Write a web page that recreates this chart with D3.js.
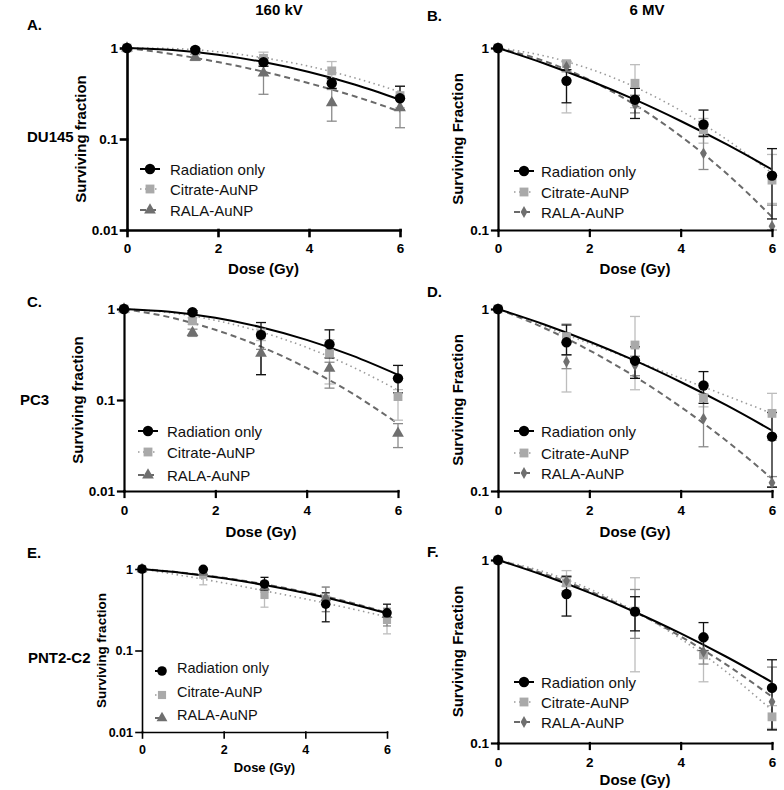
<!DOCTYPE html>
<html><head><meta charset="utf-8">
<script src="https://cdn.jsdelivr.net/npm/d3@7"></script>
<style>body{margin:0;background:#fff} svg{display:block}</style>
</head><body>
<svg id="c" width="784" height="790"></svg>
<script>
// ---------- data ----------
const doses = [0, 1.5, 3, 4.5, 6];
const fitDoses = [0, 1, 2, 3, 4, 5, 6];
const xTicks = [0, 2, 4, 6];
const seriesNames = ["Radiation only", "Citrate-AuNP", "RALA-AuNP"];
const columnTitles = ["160 kV", "6 MV"];
const rowLabels = ["DU145", "PC3", "PNT2-C2"];
const panelLetters = ["A.", "B.", "C.", "D.", "E.", "F."];
const yTicksKV = [1, 0.1, 0.01];
const yTicksMV = [1, 0.1];
const yLabelsKV = "Surviving fraction";
const yLabelsMV = "Surviving Fraction";
const xLabel = "Dose (Gy)";

// A: DU145, 160 kV
const A_rad = [1, 0.95, 0.70, 0.41, 0.28];
const A_radErr = [null, [0.91, 0.99], [0.63, 0.78], [0.36, 0.46], [0.21, 0.38]];
const A_cit = [1, 0.93, 0.77, 0.56, 0.30];
const A_citErr = [null, [0.88, 0.98], [0.65, 0.90], [0.44, 0.71], [0.22, 0.38]];
const A_rala = [1, 0.79, 0.53, 0.25, 0.22];
const A_ralaErr = [null, [0.73, 0.85], [0.31, 0.76], [0.157, 0.35], [0.133, 0.30]];
const A_radFit = [1, 0.948, 0.842, 0.70, 0.544, 0.397, 0.27];
const A_citFit = [1, 0.986, 0.908, 0.78, 0.63, 0.47, 0.33];
const A_ralaFit = [1, 0.856, 0.70, 0.549, 0.41, 0.295, 0.20];

// B: DU145, 6 MV
const B_rad = [1, 0.66, 0.52, 0.38, 0.199];
const B_radErr = [null, [0.50, 0.76], [0.41, 0.60], [0.326, 0.456], [0.115, 0.28]];
const B_cit = [1, 0.82, 0.64, 0.355, 0.188];
const B_citErr = [null, [0.44, 0.85], [0.47, 0.81], [0.30, 0.41], [0.14, 0.26]];
const B_rala = [1, 0.79, 0.486, 0.264, 0.105];
const B_ralaErr = [null, [0.74, 0.84], [0.44, 0.55], [0.215, 0.33], [0.10, 0.137]];
const B_radFit = [1, 0.825, 0.663, 0.52, 0.397, 0.296, 0.215];
const B_citFit = [1, 0.907, 0.769, 0.61, 0.453, 0.315, 0.205];
const B_ralaFit = [1, 0.85, 0.668, 0.487, 0.328, 0.205, 0.118];

// C: PC3, 160 kV
const C_rad = [1, 0.92, 0.52, 0.41, 0.173];
const C_radErr = [null, [0.88, 0.96], [0.19, 0.71], [0.29, 0.59], [0.12, 0.24]];
const C_cit = [1, 0.74, 0.52, 0.326, 0.109];
const C_citErr = [null, [0.68, 0.80], [0.45, 0.60], [0.15, 0.46], [0.06, 0.13]];
const C_rala = [1, 0.55, 0.326, 0.223, 0.043];
const C_ralaErr = [null, [0.50, 0.60], [0.19, 0.36], [0.135, 0.26], [0.03, 0.055]];
const C_radFit = [1, 0.931, 0.80, 0.63, 0.458, 0.307, 0.189];
const C_citFit = [1, 0.911, 0.751, 0.56, 0.378, 0.231, 0.128];
const C_ralaFit = [1, 0.812, 0.591, 0.385, 0.225, 0.118, 0.055];

// D: PC3, 6 MV
const D_rad = [1, 0.656, 0.52, 0.38, 0.199];
const D_radErr = [null, [0.56, 0.817], [0.416, 0.62], [0.303, 0.453], [0.105, 0.27]];
const D_cit = [1, 0.705, 0.634, 0.324, 0.267];
const D_citErr = [null, [0.35, 0.83], [0.36, 0.91], [0.29, 0.39], [0.19, 0.344]];
const D_rala = [1, 0.513, 0.49, 0.25, 0.111];
const D_ralaErr = [null, [0.47, 0.56], [0.43, 0.55], [0.175, 0.34], [0.105, 0.12]];
const D_radFit = [1, 0.825, 0.663, 0.52, 0.397, 0.296, 0.215];
const D_citFit = [1, 0.805, 0.647, 0.52, 0.417, 0.334, 0.267];
const D_ralaFit = [1, 0.789, 0.593, 0.425, 0.29, 0.189, 0.117];

// E: PNT2-C2, 160 kV
const E_rad = [1, 0.99, 0.655, 0.37, 0.29];
const E_radErr = [null, null, [0.55, 0.79], [0.225, 0.51], [0.225, 0.37]];
const E_cit = [1, 0.85, 0.48, 0.43, 0.237];
const E_citErr = [null, [0.64, 0.95], [0.34, 0.61], [0.30, 0.60], [0.16, 0.30]];
const E_rala = [1, 0.9, 0.6, 0.44, 0.273];
const E_ralaErr = [null, [0.83, 0.97], [0.52, 0.70], [0.30, 0.60], [0.20, 0.33]];
const E_radFit = [1, 0.895, 0.77, 0.637, 0.508, 0.389, 0.286];
const E_citFit = [1, 0.828, 0.675, 0.54, 0.43, 0.336, 0.259];
const E_ralaFit = [1, 0.9, 0.78, 0.65, 0.52, 0.40, 0.29];

// F: PNT2-C2, 6 MV
const F_rad = [1, 0.652, 0.522, 0.378, 0.2];
const F_radErr = [null, [0.494, 0.81], [0.41, 0.63], [0.32, 0.455], [0.118, 0.285]];
const F_cit = [1, 0.75, 0.525, 0.303, 0.139];
const F_citErr = [null, [0.68, 0.875], [0.245, 0.80], [0.216, 0.38], [0.12, 0.16]];
const F_rala = [1, 0.77, 0.52, 0.315, 0.168];
const F_ralaErr = [null, [0.72, 0.82], [0.373, 0.69], [0.27, 0.37], [0.118, 0.26]];
const F_radFit = [1, 0.825, 0.663, 0.52, 0.397, 0.296, 0.215];
const F_citFit = [1, 0.863, 0.696, 0.525, 0.371, 0.245, 0.151];
const F_ralaFit = [1, 0.842, 0.677, 0.52, 0.382, 0.268, 0.179];

// ---------- layout ----------
const FONT = "Arial, 'Liberation Sans', Helvetica, sans-serif";
const svg = d3.select("#c");

const styles = [
  {line: "#000", lw: 2, dash: null, fill: "#000", err: "#111", sym: "circle", size: 85},
  {line: "#9a9a9a", lw: 1.6, dash: "1.5,3.5", fill: "#a9a9a9", err: "#bdbdbd", sym: "square", size: 78},
  {line: "#6a6a6a", lw: 2, dash: "6,4", fill: "#6f6f6f", err: "#8a8a8a", sym: "triangle", size: 60}
];

const panels = [
  {L: "A", x: [127, 400], y: [48, 230], dom: [0.01, 1], ticks: yTicksKV, ylab: yLabelsKV, ylabX: 80,
   lg: {mx: 150, tx: 170, rows: [169, 189, 210]}, rsym: "triangle", aw: 2.6, fs: 13.5, lfs: 15, gfs: 15, yfs: 15,
   xtY: 253, xlY: 274, letter: [27, 30]},
  {L: "B", x: [498, 772], y: [48, 230], dom: [0.1, 1], ticks: yTicksMV, ylab: yLabelsMV, ylabX: 457,
   lg: {mx: 524, tx: 541, rows: [171, 192, 212]}, rsym: "diamond", aw: 2.2, fs: 13.5, lfs: 15, gfs: 15, yfs: 15,
   xtY: 253, xlY: 274, letter: [427, 21]},
  {L: "C", x: [124, 398], y: [309, 491], dom: [0.01, 1], ticks: yTicksKV, ylab: yLabelsKV, ylabX: 77,
   lg: {mx: 148, tx: 167, rows: [431, 452, 475]}, rsym: "triangle", aw: 2.2, fs: 13.5, lfs: 15, gfs: 15, yfs: 15,
   xtY: 515, xlY: 537, letter: [27, 307]},
  {L: "D", x: [498, 772], y: [309, 491], dom: [0.1, 1], ticks: yTicksMV, ylab: yLabelsMV, ylabX: 457,
   lg: {mx: 524, tx: 541, rows: [431, 453, 473]}, rsym: "diamond", aw: 2.2, fs: 13.5, lfs: 15, gfs: 15, yfs: 15,
   xtY: 515, xlY: 537, letter: [427, 297]},
  {L: "E", x: [142, 387], y: [569, 732], dom: [0.01, 1], ticks: yTicksKV, ylab: yLabelsKV, ylabX: 101,
   lg: {mx: 162, tx: 177, rows: [668, 692, 715]}, rsym: "triangle", aw: 1.6, fs: 12.5, lfs: 14.5, gfs: 13, yfs: 13.5,
   xtY: 754, xlY: 772, letter: [27, 558], small: true},
  {L: "F", x: [498, 772], y: [560, 743], dom: [0.1, 1], ticks: yTicksMV, ylab: yLabelsMV, ylabX: 457,
   lg: {mx: 524, tx: 541, rows: [682, 702, 722]}, rsym: "diamond", aw: 2.2, fs: 13.5, lfs: 15, gfs: 15, yfs: 15,
   xtY: 767, xlY: 785, letter: [427, 557]}
];

const dataBy = {
  A: [[A_rad, A_radErr, A_radFit], [A_cit, A_citErr, A_citFit], [A_rala, A_ralaErr, A_ralaFit]],
  B: [[B_rad, B_radErr, B_radFit], [B_cit, B_citErr, B_citFit], [B_rala, B_ralaErr, B_ralaFit]],
  C: [[C_rad, C_radErr, C_radFit], [C_cit, C_citErr, C_citFit], [C_rala, C_ralaErr, C_ralaFit]],
  D: [[D_rad, D_radErr, D_radFit], [D_cit, D_citErr, D_citFit], [D_rala, D_ralaErr, D_ralaFit]],
  E: [[E_rad, E_radErr, E_radFit], [E_cit, E_citErr, E_citFit], [E_rala, E_ralaErr, E_ralaFit]],
  F: [[F_rad, F_radErr, F_radFit], [F_cit, F_citErr, F_citFit], [F_rala, F_ralaErr, F_ralaFit]]
};

function symType(name) {
  return {circle: d3.symbolCircle, square: d3.symbolSquare, triangle: d3.symbolTriangle, diamond: d3.symbolDiamond}[name];
}

panels.forEach((p, pi) => {
  const x = d3.scaleLinear().domain([0, 6]).range(p.x);
  const y = d3.scaleLog().domain(p.dom).range([p.y[1], p.y[0]]);
  const g = svg.append("g");
  const series = dataBy[p.L];

  // fitted curves
  const line = d3.line().x((d, i) => x(fitDoses[i])).y(d => y(d)).curve(d3.curveMonotoneX);
  [2, 1, 0].forEach(si => {
    const st = styles[si];
    g.append("path").attr("d", line(series[si][2]))
      .attr("fill", "none").attr("stroke", st.line).attr("stroke-width", st.lw)
      .attr("stroke-dasharray", st.dash);
  });

  // error bars
  [1, 2, 0].forEach(si => {
    const st = styles[si];
    const cap = p.small ? 4 : 5;
    series[si][1].forEach((e, i) => {
      if (!e) return;
      const cx = x(doses[i]);
      const lo = Math.max(e[0], p.dom[0]);
      g.append("line").attr("x1", cx).attr("x2", cx).attr("y1", y(lo)).attr("y2", y(e[1]))
        .attr("stroke", st.err).attr("stroke-width", 1.3);
      [e[1]].concat(e[0] >= p.dom[0] ? [e[0]] : []).forEach(v => {
        g.append("line").attr("x1", cx - cap).attr("x2", cx + cap).attr("y1", y(v)).attr("y2", y(v))
          .attr("stroke", st.err).attr("stroke-width", 1.3);
      });
    });
  });

  // markers
  [1, 2, 0].forEach(si => {
    const st = styles[si];
    const sname = si === 2 ? p.rsym : st.sym;
    const size = sname === "diamond" ? 40 : (p.small ? st.size * 0.85 : st.size);
    g.selectAll(null).data(series[si][0]).join("path")
      .attr("transform", (d, i) => `translate(${x(doses[i])},${y(d)})`)
      .attr("d", d3.symbol().type(symType(sname)).size(size))
      .attr("fill", st.fill);
  });

  // axes
  const ax = g.append("g").attr("transform", `translate(0,${p.y[1]})`)
    .call(d3.axisBottom(x).tickValues(xTicks).tickFormat(d3.format("d")).tickSize(6).tickSizeOuter(0).tickPadding(7));
  const ay = g.append("g").attr("transform", `translate(${p.x[0]},0)`)
    .call(d3.axisLeft(y).tickValues(p.ticks).tickFormat(d => String(d)).tickSize(6).tickSizeOuter(0).tickPadding(3));
  [ax, ay].forEach(a => {
    a.attr("font-family", FONT).attr("font-size", p.fs).attr("font-weight", "bold");
    a.selectAll("path,line").attr("stroke", "#000").attr("stroke-width", p.aw).attr("stroke-linecap", "square");
    a.selectAll("text").attr("fill", "#000");
  });
  ax.selectAll("text").attr("dy", null).attr("y", p.xtY - p.y[1]);

  // axis labels
  g.append("text").attr("x", (p.x[0] + p.x[1]) / 2).attr("y", p.xlY).attr("text-anchor", "middle")
    .attr("font-family", FONT).attr("font-size", p.gfs).attr("font-weight", "bold").text(xLabel);
  g.append("text").attr("transform", `translate(${p.ylabX},${(p.y[0] + p.y[1]) / 2}) rotate(-90)`)
    .attr("text-anchor", "middle").attr("dominant-baseline", "central")
    .attr("font-family", FONT).attr("font-size", p.yfs).attr("font-weight", "bold").text(p.ylab);

  // legend
  seriesNames.forEach((name, si) => {
    const st = styles[si];
    const ry = p.lg.rows[si];
    const my = p.small ? ry + 3 : ry;
    g.append("line").attr("x1", p.lg.mx - (p.small ? 7 : 10)).attr("x2", p.lg.mx + (p.small ? 0 : 10))
      .attr("y1", my).attr("y2", my)
      .attr("stroke", st.line).attr("stroke-width", st.lw).attr("stroke-dasharray", st.dash);
    const sname = si === 2 ? p.rsym : st.sym;
    const size = sname === "diamond" ? 40 : (p.small ? st.size * 0.85 : st.size);
    g.append("path").attr("transform", `translate(${p.lg.mx},${my})`)
      .attr("d", d3.symbol().type(symType(sname)).size(size)).attr("fill", st.fill);
    g.append("text").attr("x", p.lg.tx).attr("y", ry).attr("dominant-baseline", "central")
      .attr("font-family", FONT).attr("font-size", p.lfs).attr("fill", "#111").text(name);
  });

  // panel letter
  svg.append("text").attr("x", p.letter[0]).attr("y", p.letter[1])
    .attr("font-family", FONT).attr("font-size", 15).attr("font-weight", "bold").text(panelLetters[pi]);
});

// column titles
[[279, columnTitles[0]], [647, columnTitles[1]]].forEach(([cx, t]) => {
  svg.append("text").attr("x", cx).attr("y", 15).attr("text-anchor", "middle")
    .attr("font-family", FONT).attr("font-size", 15).attr("font-weight", "bold").text(t);
});
// row labels
[[27, 142, 15], [20, 405, 15], [28, 663, 15]].forEach(([lx, ly, fs], i) => {
  svg.append("text").attr("x", lx).attr("y", ly)
    .attr("font-family", FONT).attr("font-size", fs).attr("font-weight", "bold").text(rowLabels[i]);
});
</script>
</body></html>
